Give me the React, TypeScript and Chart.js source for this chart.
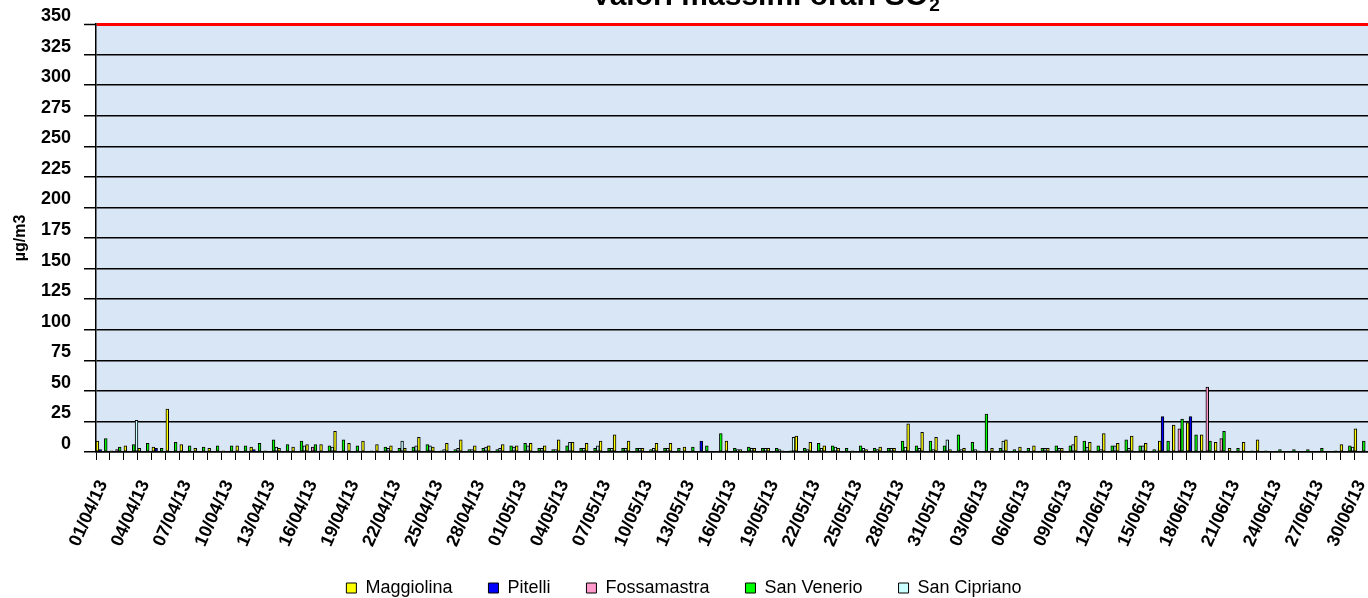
import { useEffect, useRef } from 'react';
import { Chart, registerables } from 'chart.js';

Chart.register(...registerables);

const FONT = "'Liberation Sans', Arial, Helvetica, sans-serif";

const TITLE_MAIN = 'Valori massimi orari SO';
const TITLE_SUB = '2';
const Y_TITLE = 'µg/m3';

// 01/04/2013 .. 30/06/2013 (91 days)
const categories: string[] = [];
for (let i = 0; i < 91; i++) {
  const d = new Date(2013, 3, 1 + i);
  const dd = String(d.getDate()).padStart(2, '0');
  const mm = String(d.getMonth() + 1).padStart(2, '0');
  categories.push(`${dd}/${mm}/13`);
}

const yTicks = [0, 25, 50, 75, 100, 125, 150, 175, 200, 225, 250, 275, 300, 325, 350];
const limitValue = 350;

type V = number | null;
const N = null;

const maggiolina: V[] = [
  9, 1, 5, 3, 4, 35, 6, 3, 3, 1,
  5, 4, 1, 3, 4, 6, 6, 17, 7, 9,
  6, 5, 3, 12, 4, 7, 10, 5, 5, 6,
  5, 7, 5, 10, 8, 7, 9, 14, 9, 3,
  7, 7, 4, N, N, 9, 2, 3, 3, 1,
  13, 8, 5, 3, 1, 2, 4, 3, 23, 16,
  12, 2, 3, 1, 3, 10, 4, 5, 3, 3,
  13, 8, 15, 7, 13, 7, 9, 22, 24, 14,
  8, 3, 8, 10, N, N, N, N, N, 6,
  19,
];

const pitelli: V[] = [
  2, N, N, N, 3, N, N, N, N, N,
  N, 2, N, N, N, N, N, N, N, N,
  N, N, N, N, N, N, N, N, N, N,
  N, N, N, N, N, N, N, N, N, N,
  N, N, N, 9, N, N, N, N, N, N,
  N, N, N, N, N, N, N, N, N, N,
  N, N, N, N, N, N, N, N, N, N,
  N, N, N, N, N, N, 29, N, 29, N,
  N, N, N, N, N, N, N, N, N, N,
  N,
];

const fossamastra: V[] = [
  N, 2, N, N, N, N, N, N, N, N,
  N, N, N, N, N, 4, N, N, N, N,
  N, N, N, N, N, N, N, N, N, N,
  N, N, N, N, N, N, N, N, N, N,
  N, N, N, N, N, N, N, N, N, N,
  N, N, N, N, N, N, N, N, N, N,
  N, N, N, N, N, N, N, N, N, N,
  N, N, N, N, N, N, N, 19, N, 53,
  11, N, N, N, N, N, N, N, N, N,
  N,
];

const sanVenerio: V[] = [
  11, 4, 6, 7, 3, 8, 5, 4, 5, 5,
  5, 7, 10, 6, 9, 6, 5, 10, 5, 1,
  4, 3, 4, 6, 1, 2, 2, 3, 2, 5,
  7, 3, 2, 5, 3, 3, 3, 3, 3, 2,
  3, 3, 4, 5, 15, 3, 4, 3, 3, 1,
  3, 7, 5, 3, 5, 3, 3, 9, 5, 9,
  5, 14, 8, 31, 3, 2, 3, 3, 5, 5,
  9, 5, 5, 10, 5, 2, 9, 27, 14, 9,
  17, 3, 1, 1, 2, 2, 2, 3, 1, 5,
  9,
];

const sanCipriano: V[] = [
  N, N, 26, N, N, N, N, N, N, N,
  N, N, 4, N, 5, N, 4, N, N, N,
  3, 9, 5, 5, 2, 3, 2, 4, 3, 4,
  5, 3, 2, 8, 3, 5, 3, 3, 3, 3,
  3, N, N, N, N, 2, 3, 3, 2, 12,
  2, 3, 4, N, 3, 2, 3, 4, 3, 2,
  10, 2, 2, N, 9, N, N, 3, 3, 6,
  4, 2, 5, 3, 5, 1, N, N, N, N,
  N, N, N, N, N, N, N, N, N, 4,
  N,
];

const seriesNames = ['Maggiolina', 'Pitelli', 'Fossamastra', 'San Venerio', 'San Cipriano'];
const seriesColors = ['#FFFF00', '#0000FF', '#FF99CC', '#00FF00', '#CCFFFF'];
const seriesData = [maggiolina, pitelli, fossamastra, sanVenerio, sanCipriano];

const LEGEND_ROW_CENTER = 588;
const LEGEND_PADDING = 36;
const LEGEND_FONT = 18;

const bgPlugin = {
  id: 'plotBg',
  beforeDraw(chart: any) {
    const { ctx, chartArea } = chart;
    if (!chartArea) return;
    ctx.save();
    ctx.fillStyle = '#d8e6f5';
    ctx.fillRect(chartArea.left, chartArea.top, chartArea.right - chartArea.left, chartArea.bottom - chartArea.top);
    ctx.restore();
  },
};

// Shift the legend box so that its row sits where the reference puts it.
const legendShiftPlugin = {
  id: 'legendShift',
  afterLayout(chart: any) {
    const lg = chart.legend;
    if (!lg) return;
    const wantTop = LEGEND_ROW_CENTER - LEGEND_FONT / 2 - LEGEND_PADDING;
    const dy = wantTop - lg.top;
    lg.top += dy;
    lg.bottom += dy;
  },
};

const titlePlugin = {
  id: 'subTitle',
  afterDraw(chart: any) {
    const ctx = chart.ctx;
    ctx.save();
    ctx.fillStyle = '#000';
    ctx.textBaseline = 'alphabetic';
    ctx.textAlign = 'left';
    ctx.font = `bold 30px ${FONT}`;
    const w1 = ctx.measureText(TITLE_MAIN).width;
    ctx.font = `bold 19px ${FONT}`;
    const w2 = ctx.measureText(TITLE_SUB).width;
    const cx = 765;
    const x0 = cx - (w1 + w2) / 2;
    ctx.font = `bold 30px ${FONT}`;
    ctx.fillText(TITLE_MAIN, x0, 5);
    ctx.font = `bold 19px ${FONT}`;
    ctx.fillText(TITLE_SUB, x0 + w1 + 1, 11);
    ctx.restore();
  },
};

export default function App() {
  const ref = useRef<HTMLCanvasElement | null>(null);

  useEffect(() => {
    document.body.style.margin = '0';
    if (!ref.current) return;
    const chart = new Chart(ref.current, {
      type: 'bar',
      data: {
        labels: categories,
        datasets: seriesNames.map((name, i) => ({
          label: name,
          data: seriesData[i],
          backgroundColor: seriesColors[i],
          borderColor: '#000000',
          borderWidth: 1,
          borderSkipped: false,
          categoryPercentage: 1,
          barPercentage: 1,
        })),
      },
      options: {
        animation: false,
        responsive: false,
        maintainAspectRatio: false,
        layout: { padding: { top: 24, left: 0, right: 0, bottom: -18 } },
        plugins: {
          title: { display: false },
          tooltip: { enabled: false },
          legend: {
            display: true,
            position: 'bottom',
            labels: {
              boxWidth: 10,
              boxHeight: 10,
              padding: LEGEND_PADDING,
              color: '#000',
              font: { family: FONT, size: LEGEND_FONT },
            },
          },
        },
        scales: {
          x: {
            offset: true,
            grid: {
              display: true,
              offset: true,
              drawOnChartArea: false,
              drawTicks: true,
              tickLength: 8,
              color: '#000',
              lineWidth: 1,
            },
            border: { display: true, color: '#000', width: 1.5 },
            ticks: {
              autoSkip: false,
              maxRotation: 66,
              minRotation: 66,
              padding: 17,
              color: '#000',
              font: { family: FONT, size: 18, weight: 'bold' },
              callback: (_v: any, idx: number) => (idx % 3 === 0 ? categories[idx] : ''),
            },
            afterFit: (scale: any) => {
              scale.height = 100;
              scale.paddingLeft = 0;
              scale.paddingRight = 0;
            },
          },
          y: {
            min: 0,
            max: limitValue,
            afterBuildTicks: (scale: any) => {
              scale.ticks = yTicks.map((v) => ({ value: v }));
            },
            grid: {
              color: (c: any) => (c.tick && c.tick.value === limitValue ? '#ff0000' : '#000000'),
              lineWidth: (c: any) => (c.tick && c.tick.value === limitValue ? 3 : 1.5),
              tickColor: '#000000',
              tickWidth: 1.5,
              tickLength: 12,
              drawTicks: true,
            },
            border: { display: true, color: '#000', width: 1.5 },
            ticks: {
              padding: 13,
              labelOffset: -8,
              color: '#000',
              font: { family: FONT, size: 18, weight: 'bold' },
            },
            title: {
              display: true,
              text: Y_TITLE,
              color: '#000',
              padding: { top: 11, bottom: 0 },
              font: { family: FONT, size: 16, weight: 'bold' },
            },
            afterFit: (scale: any) => {
              scale.width = 96;
            },
          },
        },
      },
      plugins: [bgPlugin, legendShiftPlugin, titlePlugin],
    });
    return () => chart.destroy();
  }, []);

  return (
    <div style={{ width: 1368, height: 598 }}>
      <canvas ref={ref} width={1368} height={598} style={{ display: 'block' }} />
    </div>
  );
}
